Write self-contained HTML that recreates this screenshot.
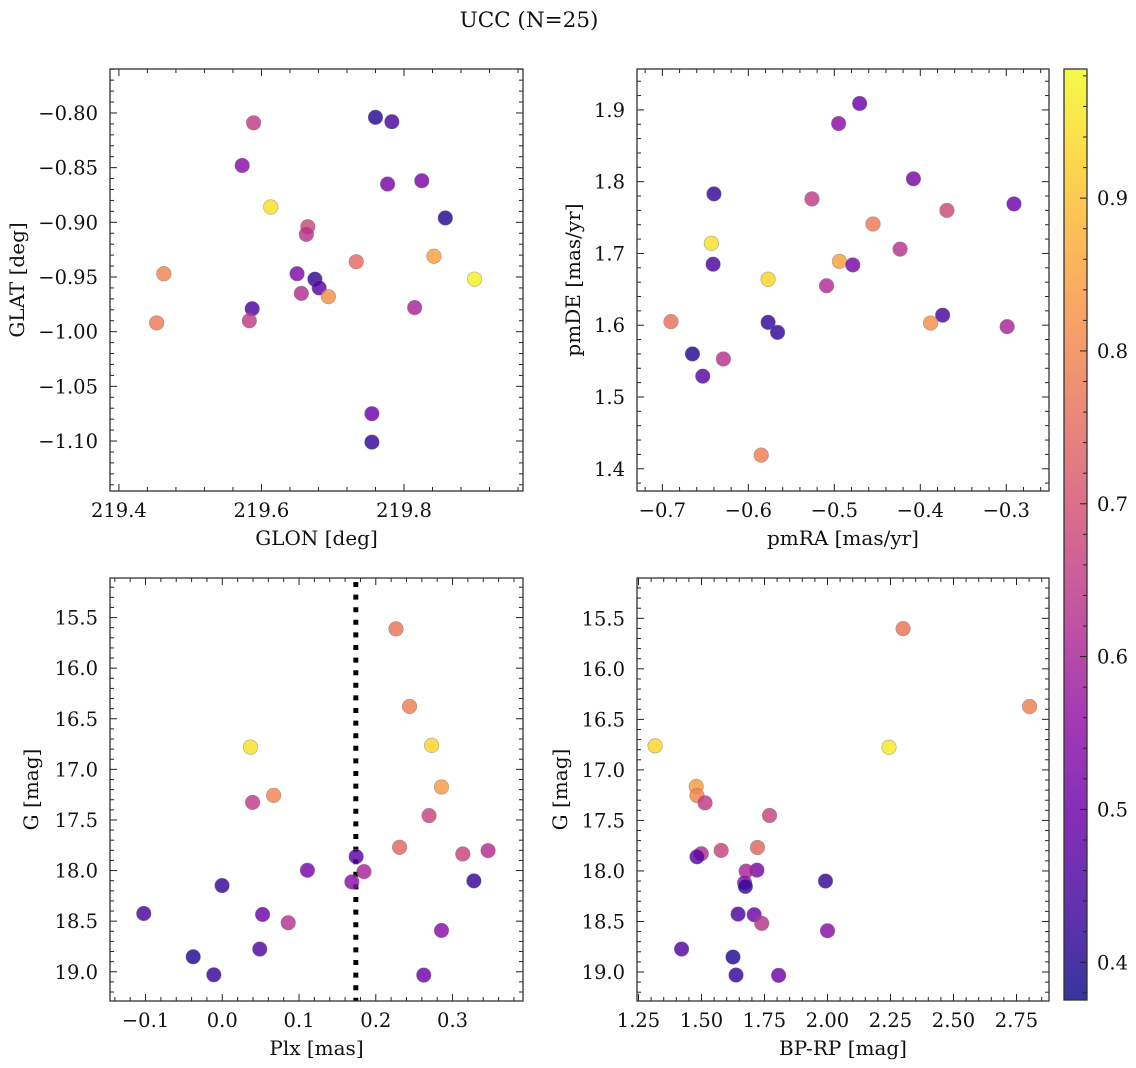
<!DOCTYPE html>
<html><head><meta charset="utf-8">
<style>
html,body{margin:0;padding:0;background:#fff;}
svg{display:block;font-family:"DejaVu Serif","Liberation Serif",serif;}
</style></head>
<body>
<svg id="fig" width="1136" height="1068" viewBox="0 0 1136 1068" xmlns="http://www.w3.org/2000/svg">
<text x="529" y="27" font-size="21.5" text-anchor="middle" fill="#111">UCC (N=25)</text>
</svg>
<script>
// ---- data: top-left GLON/GLAT ----
const glon = [219.589,219.573,219.613,219.760,219.783,219.777,219.825,219.858,219.665,219.663,219.733,219.842,219.463,219.650,219.675,219.681,219.656,219.694,219.899,219.587,219.815,219.453,219.583,219.755,219.755];
const glat = [-0.809,-0.848,-0.886,-0.804,-0.808,-0.865,-0.862,-0.896,-0.904,-0.911,-0.936,-0.931,-0.947,-0.947,-0.952,-0.960,-0.965,-0.968,-0.952,-0.979,-0.978,-0.992,-0.990,-1.075,-1.101];
const probTL = [0.65,0.55,0.95,0.40,0.45,0.52,0.52,0.40,0.68,0.63,0.75,0.85,0.80,0.53,0.42,0.47,0.62,0.82,0.97,0.45,0.60,0.78,0.65,0.50,0.42];
// ---- data: top-right pmRA/pmDE ----
const pmra = [-0.4705,-0.495,-0.408,-0.640,-0.526,-0.369,-0.291,-0.455,-0.643,-0.4235,-0.641,-0.494,-0.4785,-0.577,-0.509,-0.690,-0.577,-0.566,-0.374,-0.388,-0.299,-0.665,-0.629,-0.653,-0.585];
const pmde = [1.909,1.881,1.804,1.783,1.776,1.760,1.769,1.741,1.714,1.706,1.685,1.689,1.684,1.664,1.655,1.605,1.604,1.590,1.614,1.603,1.598,1.560,1.553,1.529,1.419];
const probTR = [0.50,0.55,0.52,0.42,0.65,0.68,0.50,0.78,0.95,0.63,0.45,0.85,0.52,0.93,0.62,0.76,0.42,0.42,0.45,0.82,0.60,0.40,0.63,0.47,0.79];
// ---- data: bottom panels (same stars) ----
const plx = [0.2263,0.244,0.0367,0.2727,0.2856,0.0669,0.0395,0.2694,0.231,0.3134,0.3463,0.1744,0.1109,0.1846,0.1688,-0.0003,0.3278,-0.1023,0.0525,0.0859,0.2856,-0.0379,0.0488,-0.011,0.2625];
const gmag = [15.612,16.378,16.780,16.763,17.174,17.257,17.326,17.457,17.770,17.836,17.803,17.862,17.997,18.010,18.112,18.148,18.102,18.424,18.434,18.516,18.592,18.852,18.776,19.030,19.033];
const gmagCMD = [15.602,16.373,16.762,16.776,17.164,17.253,17.326,17.451,17.768,17.797,17.830,17.860,17.992,18.002,18.117,18.153,18.100,18.773,18.427,18.433,18.519,18.592,18.852,19.030,19.033];
const bprp = [2.300,2.802,1.316,2.244,1.479,1.482,1.514,1.770,1.722,1.578,1.499,1.482,1.720,1.677,1.671,1.674,1.992,1.421,1.645,1.709,1.739,2.000,1.625,1.637,1.806];
const probBL = [0.77,0.79,0.95,0.93,0.84,0.80,0.65,0.67,0.74,0.67,0.62,0.47,0.52,0.60,0.55,0.42,0.42,0.45,0.50,0.63,0.55,0.40,0.46,0.42,0.50];
const probBR = [0.77,0.79,0.93,0.96,0.84,0.80,0.65,0.67,0.74,0.67,0.62,0.47,0.52,0.60,0.55,0.42,0.42,0.46,0.45,0.50,0.63,0.55,0.40,0.42,0.50];
const plxMedian = [0.174];
// ---- tick labels ----
const ticksTLx = [219.4,219.6,219.8];
const ticksTLy = [-0.80,-0.85,-0.90,-0.95,-1.00,-1.05,-1.10];
const ticksTRx = [-0.7,-0.6,-0.5,-0.4,-0.3];
const ticksTRy = [1.4,1.5,1.6,1.7,1.8,1.9];
const ticksBLx = [-0.1,0.0,0.1,0.2,0.3];
const ticksGy = [15.5,16.0,16.5,17.0,17.5,18.0,18.5,19.0];
const ticksBRx = [1.25,1.50,1.75,2.00,2.25,2.50,2.75];
const ticksCB = [0.4,0.5,0.6,0.7,0.8,0.9];
const cbRange = [0.3753,0.9845];

const NS="http://www.w3.org/2000/svg";
const svg=document.getElementById('fig');
function mk(tag,attrs,parent){const e=document.createElementNS(NS,tag);for(const k in attrs)e.setAttribute(k,attrs[k]);(parent||svg).appendChild(e);return e;}

const plasma=[[13,8,135],[65,4,157],[106,0,168],[143,13,164],[177,42,144],[204,71,120],[225,100,98],[242,132,75],[252,166,54],[252,206,37],[240,249,33]];
function cmap(v){let t=(v-cbRange[0])/(cbRange[1]-cbRange[0]);t=Math.max(0,Math.min(1,t));const f=t*10,i=Math.min(9,Math.floor(f)),r=f-i;const a=plasma[i],b=plasma[i+1];return `rgb(${Math.round(a[0]+(b[0]-a[0])*r)},${Math.round(a[1]+(b[1]-a[1])*r)},${Math.round(a[2]+(b[2]-a[2])*r)})`;}
function fmt(v,d){const s=Math.abs(v).toFixed(d);return (v<-1e-9?'\u2212':'')+s;}
const FS=19.5, LFS=20;

function panel(o){
  const g=mk('g',{});
  
  
  const sx=v=>o.x0+(v-o.xr[0])/(o.xr[1]-o.xr[0])*(o.x1-o.x0);
  const sy=v=>o.inv? o.y0+(v-o.yr[0])/(o.yr[1]-o.yr[0])*(o.y1-o.y0) : o.y1-(v-o.yr[0])/(o.yr[1]-o.yr[0])*(o.y1-o.y0);
  const tg=mk('g',{stroke:'#222','stroke-width':1},g);
  function ticksX(ticks,minorN,dec){
    const step=ticks[1]-ticks[0];
    for(let k=-1;k<ticks.length;k++){
      const base=ticks[0]+k*step;
      for(let m=0;m<minorN;m++){
        const v=base+m*step/minorN; if(v<o.xr[0]||v>o.xr[1])continue;
        const x=sx(v), L=m===0?7:4;
        mk('line',{x1:x,x2:x,y1:o.y1,y2:o.y1-L},tg);mk('line',{x1:x,x2:x,y1:o.y0,y2:o.y0+L},tg);
      }
    }
    ticks.forEach(v=>{const t=mk('text',{x:sx(v),y:o.y1+26,'font-size':FS,'text-anchor':'middle',fill:'#111',stroke:'none'},g);t.textContent=fmt(v,dec);
      });
  }
  function ticksY(ticks,minorN,dec){
    const step=ticks[1]-ticks[0];
    const lo=Math.min(o.yr[0],o.yr[1]),hi=Math.max(o.yr[0],o.yr[1]);
    for(let k=-1;k<ticks.length;k++){
      const base=ticks[0]+k*step;
      for(let m=0;m<Math.abs(minorN);m++){
        const v=base+m*step/minorN; if(v<lo||v>hi)continue;
        const y=sy(v), L=m===0?7:4;
        mk('line',{x1:o.x0,x2:o.x0+L,y1:y,y2:y},tg);mk('line',{x1:o.x1,x2:o.x1-L,y1:y,y2:y},tg);
      }
    }
    ticks.forEach(v=>{const t=mk('text',{x:o.x0-12,y:sy(v)+7,'font-size':FS,'text-anchor':'end',fill:'#111',stroke:'none'},g);t.textContent=fmt(v,dec);
      });
  }
  ticksX(o.tx,5,o.dx);ticksY(o.ty,5,o.dy);
  if(o.vline!==undefined){
    const l=mk('line',{x1:sx(o.vline),x2:sx(o.vline),y1:o.y0+4,y2:o.y1,stroke:'#000','stroke-width':5,'stroke-dasharray':'5,7.6'},g);
    
  }
  for(let i=0;i<o.xs.length;i++){
    const c=mk('circle',{cx:sx(o.xs[i]),cy:sy(o.ys[i]),r:7.3,fill:cmap(o.cs[i]),'fill-opacity':0.82,stroke:'#777','stroke-width':0.6,'stroke-opacity':0.6},g);
    
    
  }
  const fr=mk('rect',{x:o.x0,y:o.y0,width:o.x1-o.x0,height:o.y1-o.y0,fill:'none',stroke:'#333','stroke-width':1.3},g);
  
  const xl=mk('text',{x:(o.x0+o.x1)/2,y:o.y1+54,'font-size':LFS,'text-anchor':'middle',fill:'#111'},g);xl.textContent=o.xlab;
  
  const yx=o.ylx,yy=(o.y0+o.y1)/2;
  const yl=mk('text',{x:yx,y:yy,'font-size':LFS,'text-anchor':'middle',fill:'#111',transform:`rotate(-90 ${yx} ${yy})`},g);yl.textContent=o.ylab;
  
}

panel({name:'glon-glat-panel',x0:110,x1:523,y0:69,y1:491,xr:[219.3875,219.967],yr:[-1.1457,-0.7598],xs:glon,ys:glat,cs:probTL,tx:ticksTLx,ty:ticksTLy,dx:1,dy:2,xlab:'GLON [deg]',ylab:'GLAT [deg]',ylx:24});
panel({name:'pm-panel',x0:637,x1:1049,y0:69,y1:491,xr:[-0.7295,-0.2503],yr:[1.369,1.957],xs:pmra,ys:pmde,cs:probTR,tx:ticksTRx,ty:ticksTRy,dx:1,dy:1,xlab:'pmRA [mas/yr]',ylab:'pmDE [mas/yr]',ylx:580});
panel({name:'plx-g-panel',x0:110,x1:523,y0:578,y1:1001,xr:[-0.1463,0.3918],yr:[15.109,19.289],inv:true,xs:plx,ys:gmag,cs:probBL,tx:ticksBLx,ty:ticksGy,dx:1,dy:1,xlab:'Plx [mas]',ylab:'G [mag]',ylx:38,vline:plxMedian[0]});
panel({name:'cmd-panel',x0:637,x1:1049,y0:578,y1:1001,xr:[1.244,2.879],yr:[15.101,19.287],inv:true,xs:bprp,ys:gmagCMD,cs:probBR,tx:ticksBRx,ty:ticksGy,dx:2,dy:1,xlab:'BP-RP [mag]',ylab:'G [mag]',ylx:567});

// colorbar
(function(){
  const x0=1064,x1=1087,y0=69,y1=1000;
  const g=mk('g',{});
  
  
  const defs=mk('defs',{},g);
  const lg=mk('linearGradient',{id:'cbg',x1:0,y1:1,x2:0,y2:0},defs);
  for(let i=0;i<=20;i++){const v=cbRange[0]+(cbRange[1]-cbRange[0])*i/20;mk('stop',{offset:i/20,'stop-color':cmap(v)},lg);}
  mk('rect',{x:x0,y:y0,width:x1-x0,height:y1-y0,fill:'url(#cbg)','fill-opacity':0.82},g);
  const sy=v=>y1-(v-cbRange[0])/(cbRange[1]-cbRange[0])*(y1-y0);
  for(let k=-1;k<ticksCB.length;k++){for(let m=0;m<5;m++){const v=ticksCB[0]+(k+m/5)*0.1;if(v<cbRange[0]||v>cbRange[1])continue;
    mk('line',{x1:x1,x2:x1-(m===0?7:4),y1:sy(v),y2:sy(v),stroke:'#222','stroke-width':1},g);}}
  ticksCB.forEach(v=>{const t=mk('text',{x:x1+10,y:sy(v)+7,'font-size':FS,fill:'#111'},g);t.textContent=v.toFixed(1);
    });
  mk('rect',{x:x0,y:y0,width:x1-x0,height:y1-y0,fill:'none',stroke:'#333','stroke-width':1.3},g);
})();
</script>
</body></html>
